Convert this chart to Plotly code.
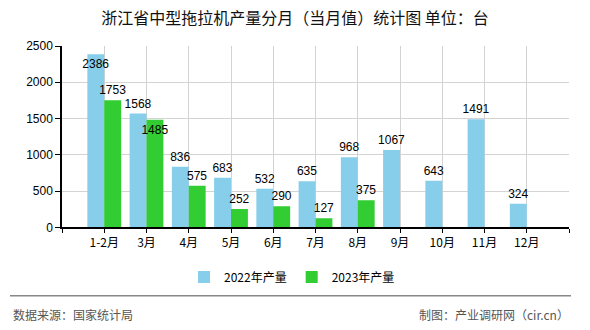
import plotly.graph_objects as go

categories = ["1-2月", "3月", "4月", "5月", "6月", "7月", "8月", "9月", "10月", "11月", "12月"]
values_2022 = [2386, 1568, 836, 683, 532, 635, 968, 1067, 643, 1491, 324]
values_2023 = [1753, 1485, 575, 252, 290, 127, 375]
series_names = ["2022年产量", "2023年产量"]
y_ticks = [0, 500, 1000, 1500, 2000, 2500]

title_text = "浙江省中型拖拉机产量分月（当月值）统计图 单位：台"
source_text = "数据来源：国家统计局"
credit_text = "制图：产业调研网（cir.cn）"

FONT = "Liberation Sans, Noto Sans CJK SC, sans-serif"
CJK = "Noto Sans CJK SC, sans-serif"

x_idx = list(range(len(categories)))

# label placement: inside the bar top where the outside label would collide
pos_2022 = ["inside" if i == 0 else "outside" for i in range(len(values_2022))]
pos_2023 = ["inside" if i == 1 else "outside" for i in range(len(values_2023))]

fig = go.Figure()
for vals, name, color, pos in [
    (values_2022, series_names[0], "#87CEEB", pos_2022),
    (values_2023, series_names[1], "#32CD32", pos_2023),
]:
    fig.add_trace(go.Bar(
        x=x_idx[:len(vals)], y=vals, name=name,
        marker=dict(color=color, line=dict(width=0)),
        text=[str(v) for v in vals], textposition=pos, textangle=0,
        insidetextanchor="end", constraintext="none", cliponaxis=False,
        textfont=dict(family=FONT, size=12, color="#000"),
        insidetextfont=dict(family=FONT, size=12, color="#000"),
        outsidetextfont=dict(family=FONT, size=12, color="#000"),
    ))

L, R, T, B = 62, 21, 46, 101
W, H = 590, 330
pw = W - L - R
ph = H - T - B

def px_x(p):
    return (p - L) / pw

def px_y(p):
    return (H - B - p) / ph

tickvals = [-1] + x_idx + [len(categories)]
ticktext = [""] + categories + [""]

fig.update_layout(
    width=W, height=H,
    margin=dict(l=L, r=R, t=T, b=B, pad=0),
    paper_bgcolor="#FFFFFF", plot_bgcolor="#FFFFFF",
    barmode="group", bargap=0.2, bargroupgap=0,
    font=dict(family=FONT, size=12, color="#000"),
    title=dict(text=title_text, x=0.5, xref="container", xanchor="center",
               y=1 - 18 / H, yref="container", yanchor="middle",
               font=dict(family=CJK, size=16, color="#111")),
    xaxis=dict(
        range=[-1, len(categories)], tickmode="array",
        tickvals=tickvals, ticktext=ticktext,
        showgrid=True, gridcolor="#D3D3D3", gridwidth=1,
        showline=True, linecolor="#000", linewidth=1.5,
        ticks="outside", ticklen=4, tickcolor="#000",
        tickfont=dict(family=CJK, size=12, color="#000"),
        zeroline=False, fixedrange=True,
    ),
    yaxis=dict(
        range=[0, 2500], tickmode="array", tickvals=y_ticks,
        showgrid=True, gridcolor="#D3D3D3", gridwidth=1,
        showline=True, linecolor="#000", linewidth=1.5,
        ticks="outside", ticklen=5, tickcolor="#000",
        tickfont=dict(family=FONT, size=12, color="#000"),
        zeroline=False, fixedrange=True,
    ),
    legend=dict(
        orientation="h", xref="container", yref="container",
        x=0.495, xanchor="center", y=1 - 277 / H, yanchor="middle",
        font=dict(family=CJK, size=12, color="#000"),
        itemwidth=30, bgcolor="rgba(0,0,0,0)",
    ),
    showlegend=True,
)

fig.add_shape(type="line", xref="paper", yref="paper",
              x0=px_x(10), x1=px_x(571), y0=px_y(298), y1=px_y(298),
              line=dict(color="#888888", width=1.5))
fig.add_annotation(text=source_text, xref="paper", yref="paper",
                   x=px_x(11), y=px_y(317), xanchor="left", yanchor="middle",
                   showarrow=False, font=dict(family=CJK, size=12, color="#555"))
fig.add_annotation(text=credit_text, xref="paper", yref="paper",
                   x=px_x(571), y=px_y(317), xanchor="right", yanchor="middle",
                   showarrow=False, font=dict(family=CJK, size=12, color="#555"))

fig.write_html("out.html")
